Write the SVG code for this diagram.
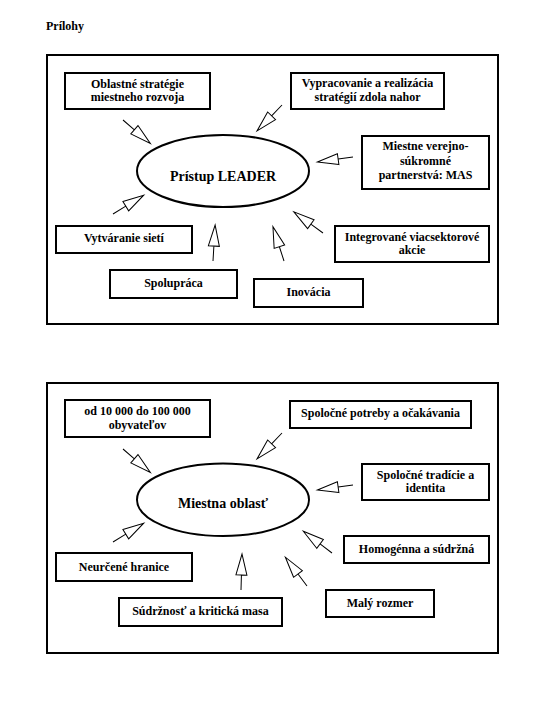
<svg xmlns="http://www.w3.org/2000/svg" xmlns:xlink="http://www.w3.org/1999/xlink" width="535" height="702" viewBox="0 0 535 702">
<style>
.frame{fill:none;stroke:#000;stroke-width:2}
.box{fill:#fff;stroke:#000;stroke-width:2}
.ell{fill:#fff;stroke:#000;stroke-width:2}
.t{font-family:"Liberation Serif","Times New Roman",serif;font-weight:bold;font-size:12px;fill:#000;text-anchor:middle}
.big{font-size:14px}
.arr{fill:#fff;stroke:#000;stroke-width:1}
</style>
<defs>
<path id="a" d="M0,0 L15,0 M15,-5.5 L36,0 L15,5.5 Z"/>
</defs>
<rect width="535" height="702" fill="#fff"/>
<text x="46" y="30" class="t" style="text-anchor:start">Prílohy</text>

<rect class="frame" x="47" y="55" width="451" height="269"/>
<rect class="frame" x="47" y="383" width="451" height="270"/>

<g id="connectors">
<use xlink:href="#a" class="arr" transform="translate(123,120) rotate(40.6)"/>
<use xlink:href="#a" class="arr" transform="translate(282,105) rotate(133.9)"/>
<use xlink:href="#a" class="arr" transform="translate(353,157) rotate(171.9)"/>
<use xlink:href="#a" class="arr" transform="translate(113,214) rotate(-31.5)"/>
<use xlink:href="#a" class="arr" transform="translate(213,261) rotate(-86.6)"/>
<use xlink:href="#a" class="arr" transform="translate(284,261) rotate(-107.9)"/>
<use xlink:href="#a" class="arr" transform="translate(323,233) rotate(-144.1)"/>
<use xlink:href="#a" class="arr" transform="translate(123,449) rotate(40.6)"/>
<use xlink:href="#a" class="arr" transform="translate(282,433) rotate(133.9)"/>
<use xlink:href="#a" class="arr" transform="translate(353,485) rotate(171.9)"/>
<use xlink:href="#a" class="arr" transform="translate(113,542) rotate(-31.5)"/>
<use xlink:href="#a" class="arr" transform="translate(241,590) rotate(-88.4)"/>
<use xlink:href="#a" class="arr" transform="translate(307,586) rotate(-126.9)"/>
<use xlink:href="#a" class="arr" transform="translate(332,553) rotate(-142.8)"/>
</g>

<g id="leader">
<ellipse class="ell" cx="223" cy="171" rx="86" ry="36"/>
<text class="t big" x="223" y="181">Prístup LEADER</text>
</g>
<g id="oblastne">
<rect class="box" x="65" y="73" width="145" height="36"/>
<text class="t" x="137.5" y="87.5">Oblastné stratégie</text>
<text class="t" x="137.5" y="101">miestneho rozvoja</text>
</g>
<g id="vypracovanie">
<rect class="box" x="291" y="73" width="153" height="36"/>
<text class="t" x="367.5" y="87.3">Vypracovanie a realizácia</text>
<text class="t" x="367.5" y="100.8">stratégií zdola nahor</text>
</g>
<g id="mas">
<rect class="box" x="362" y="136" width="127" height="53"/>
<text class="t" x="425.5" y="150">Miestne verejno-</text>
<text class="t" x="425.5" y="164.5">súkromné</text>
<text class="t" x="425.5" y="179">partnerstvá: MAS</text>
</g>
<g id="siete">
<rect class="box" x="56" y="226" width="136" height="27"/>
<text class="t" x="124" y="242.3">Vytváranie sietí</text>
</g>
<g id="spolupraca">
<rect class="box" x="110" y="270" width="127" height="28"/>
<text class="t" x="173.5" y="286.7">Spolupráca</text>
</g>
<g id="inovacia">
<rect class="box" x="254" y="279" width="109" height="28"/>
<text class="t" x="308.5" y="295.7">Inovácia</text>
</g>
<g id="integrovane">
<rect class="box" x="335" y="226" width="154" height="36"/>
<text class="t" x="412" y="240.5">Integrované viacsektorové</text>
<text class="t" x="412" y="254">akcie</text>
</g>

<g id="oblast">
<ellipse class="ell" cx="223" cy="499.7" rx="86" ry="36.3"/>
<text class="t big" x="223" y="508.3">Miestna oblasť</text>
</g>
<g id="obyvatelov">
<rect class="box" x="65" y="400" width="145" height="37"/>
<text class="t" x="137.5" y="415">od 10 000 do 100 000</text>
<text class="t" x="137.5" y="428.5">obyvateľov</text>
</g>
<g id="potreby">
<rect class="box" x="290" y="401" width="181" height="27"/>
<text class="t" x="380.5" y="417.3">Spoločné potreby a očakávania</text>
</g>
<g id="tradicie">
<rect class="box" x="362" y="464" width="127" height="36"/>
<text class="t" x="425.5" y="478.8">Spoločné tradície a</text>
<text class="t" x="425.5" y="492.3">identita</text>
</g>
<g id="hranice">
<rect class="box" x="56" y="553" width="136" height="28"/>
<text class="t" x="124" y="570.7">Neurčené hranice</text>
</g>
<g id="sudrznost">
<rect class="box" x="119" y="598" width="163" height="28"/>
<text class="t" x="200.5" y="615">Súdržnosť a kritická masa</text>
</g>
<g id="homogenna">
<rect class="box" x="344" y="536" width="145" height="27"/>
<text class="t" x="416.5" y="552.7">Homogénna a súdržná</text>
</g>
<g id="rozmer">
<rect class="box" x="326" y="590" width="108" height="27"/>
<text class="t" x="380" y="606.7">Malý rozmer</text>
</g>
</svg>
